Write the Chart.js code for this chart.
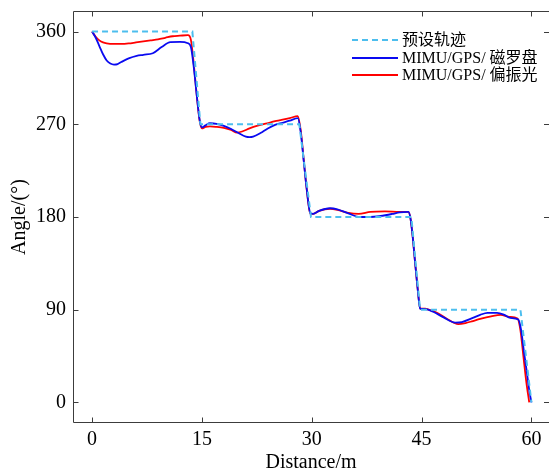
<!DOCTYPE html>
<html>
<head>
<meta charset="utf-8">
<script src="https://cdn.jsdelivr.net/npm/chart.js@4/dist/chart.umd.min.js"></script>
<style>
  body { margin: 0; background: #fff; }
  canvas { display: block; }
</style>
</head>
<body>
<canvas id="angle_chart" width="549" height="476"></canvas>
<script>
// ticks
var xTicks = [0, 15, 30, 45, 60];
var yTicks = [0, 90, 180, 270, 360];

// preset track (dashed)
var refDist  = [0, 13.7, 14.8, 28.3, 29.9, 43.6, 44.8, 58.5, 60.0];
var refAngle = [360, 360, 270, 270, 180, 180, 90, 90, 0];

// MIMU/GPS/ magnetic compass (blue)
var magDist  = [0, 0.5, 1, 1.5, 2, 2.5, 3, 3.5, 4, 5, 6.1, 7, 8.3, 9.5, 10.7, 12, 13.1,
                13.5, 13.9, 14.3, 14.7, 15.0,
                15.5, 16.1, 17, 18, 19, 20, 21, 21.5, 22, 23, 24, 25, 26, 27, 28.1,
                28.5, 28.9, 29.3, 29.8, 30.2,
                31, 32.5, 33.5, 35, 36.6, 38, 39.4, 41, 42, 43.2,
                43.5, 43.8, 44.1, 44.5, 44.8,
                45.5, 46.6, 48, 49.6, 50.5, 52, 53, 54, 55.3, 56.3, 57.1, 58.2,
                58.6, 59.0, 59.4, 59.7, 60.0];
var magAngle = [360, 354, 346, 338, 332, 329, 328, 328.5, 330.5, 334, 336.5, 337.5, 339, 345, 349.7, 350, 348.7,
                345, 325, 298, 274, 267,
                269, 271, 270.5, 268.5, 265.5, 261.5, 258, 257.5, 258, 261.5, 266, 269.5, 271.5, 273.5, 276,
                262, 235, 208, 184, 183,
                186, 188.5, 187.5, 183.5, 180, 180, 181, 183, 184.5, 185,
                178, 160, 137, 108, 91,
                90.5, 88, 82.5, 77.5, 78, 82, 85, 87, 87, 85, 82, 80.5,
                70, 48, 28, 12, 0];

// MIMU/GPS/ polarization (red)
var polDist  = [0, 0.5, 1, 1.5, 2, 3, 4, 5, 6, 7, 8, 9, 10, 11, 12, 13.1,
                13.5, 13.9, 14.3, 14.7, 15.0,
                15.5, 16.1, 17, 18, 19, 19.8, 20.5, 21.5, 22.5, 23.9, 25, 25.7, 27, 28.1,
                28.5, 28.9, 29.3, 29.8, 30.2,
                31, 32.5, 33.5, 35, 36.4, 38, 40, 42, 43.2,
                43.5, 43.8, 44.1, 44.5, 44.8,
                45.5, 46, 47.1, 48.5, 50, 51, 52, 53, 54.5, 55.8, 57, 58.1,
                58.5, 58.9, 59.3, 59.7];
var polAngle = [360, 355, 351.5, 349.5, 348.5, 348, 348, 348.5, 349.5, 350.5, 351.5, 352.5, 354, 355.5, 356, 356.5,
                352, 328, 298, 273, 266,
                267.5, 268, 267.5, 266.5, 264.5, 262, 263, 266, 268.5, 271, 273, 274, 276, 278,
                264, 236, 208, 183, 183,
                186, 188, 187, 184, 183, 185, 185.5, 185, 185,
                178, 160, 137, 108, 91,
                91, 90, 87, 81, 76, 77, 79, 81, 83.5, 85, 83, 81.5,
                70, 45, 20, 0];

var legendLabels = ["预设轨迹", "MIMU/GPS/ 磁罗盘", "MIMU/GPS/ 偏振光"];

function toPoints(xs, ys) {
  return xs.map(function (x, i) { return { x: x, y: ys[i] }; });
}

var fontFamily = "'Liberation Serif', 'Times New Roman', 'Noto Sans CJK SC', serif";
Chart.defaults.font.family = fontFamily;
Chart.defaults.color = "#000";

// frame (right edge falls outside the canvas) with inward ticks
var frameTicks = {
  id: 'frameTicks',
  afterDatasetsDraw: function (chart) {
    var ctx = chart.ctx, a = chart.chartArea, x = chart.scales.x, y = chart.scales.y;
    var l = a.left + 0.5, t = a.top + 0.5, b = a.bottom - 0.5, r = chart.width + 1;
    ctx.save();
    ctx.strokeStyle = "#3c3c3c";
    ctx.lineWidth = 1;
    ctx.beginPath();
    ctx.moveTo(r, t); ctx.lineTo(l, t); ctx.lineTo(l, b); ctx.lineTo(r, b);
    xTicks.forEach(function (v) {
      var px = Math.round(x.getPixelForValue(v)) + 0.5;
      ctx.moveTo(px, b); ctx.lineTo(px, b - 5);
      ctx.moveTo(px, t); ctx.lineTo(px, t + 5);
    });
    yTicks.forEach(function (v) {
      var py = Math.round(y.getPixelForValue(v)) + 0.5;
      ctx.moveTo(l, py); ctx.lineTo(l + 5, py);
      ctx.moveTo(chart.width, py); ctx.lineTo(chart.width - 5, py);
    });
    ctx.stroke();
    ctx.restore();
  }
};

// legend in the upper right of the plot
var boxLegend = {
  id: 'boxLegend',
  afterDraw: function (chart) {
    var ctx = chart.ctx;
    var rows = [40, 58, 75];
    ctx.save();
    ctx.font = "16px " + fontFamily;
    ctx.textBaseline = "middle";
    chart.data.datasets.forEach(function (ds, i) {
      ctx.strokeStyle = ds.borderColor;
      ctx.lineWidth = ds.borderWidth;
      ctx.setLineDash(ds.borderDash || []);
      ctx.beginPath();
      ctx.moveTo(352, rows[i]);
      ctx.lineTo(398, rows[i]);
      ctx.stroke();
      ctx.setLineDash([]);
      ctx.fillStyle = "#000";
      ctx.fillText(ds.label, 402, rows[i] + 1);
    });
    ctx.restore();
  }
};

var chart = new Chart(document.getElementById('angle_chart'), {
  type: 'line',
  data: {
    datasets: [
      {
        label: legendLabels[0],
        data: toPoints(refDist, refAngle),
        borderColor: "#4DBEEE",
        borderWidth: 2,
        borderDash: [6, 4],
        pointRadius: 0,
        tension: 0
      },
      {
        label: legendLabels[1],
        data: toPoints(magDist, magAngle),
        borderColor: "#0a0af0",
        borderWidth: 1.8,
        pointRadius: 0,
        cubicInterpolationMode: 'monotone'
      },
      {
        label: legendLabels[2],
        data: toPoints(polDist, polAngle),
        borderColor: "#ff0000",
        borderWidth: 1.8,
        pointRadius: 0,
        cubicInterpolationMode: 'monotone'
      }
    ]
  },
  options: {
    responsive: false,
    animation: false,
    layout: { padding: { top: 11, right: 0, left: 0, bottom: 0 } },
    scales: {
      x: {
        type: 'linear',
        min: -2.6,
        max: 62.4,
        grid: { display: false, drawTicks: false },
        border: { display: false },
        afterBuildTicks: function (s) { s.ticks = xTicks.map(function (v) { return { value: v }; }); },
        afterFit: function (s) { s.height = 53; s.paddingLeft = 0; s.paddingRight = 0; },
        ticks: { font: { size: 20 }, padding: 5, maxRotation: 0 },
        title: { display: true, text: "Distance/m", font: { size: 20 }, padding: { top: 0, bottom: 1 } }
      },
      y: {
        min: -20,
        max: 380,
        grid: { display: false, drawTicks: false },
        border: { display: false },
        afterBuildTicks: function (s) { s.ticks = yTicks.map(function (v) { return { value: v }; }); },
        afterFit: function (s) { s.width = 73; s.paddingTop = 0; s.paddingBottom = 0; },
        ticks: { font: { size: 20 }, padding: 7 },
        title: { display: true, text: "Angle/(°)", font: { size: 20 }, padding: { top: 8, bottom: 0 } }
      }
    },
    plugins: {
      legend: { display: false },
      tooltip: { enabled: false }
    }
  },
  plugins: [frameTicks, boxLegend]
});
</script>
</body>
</html>
